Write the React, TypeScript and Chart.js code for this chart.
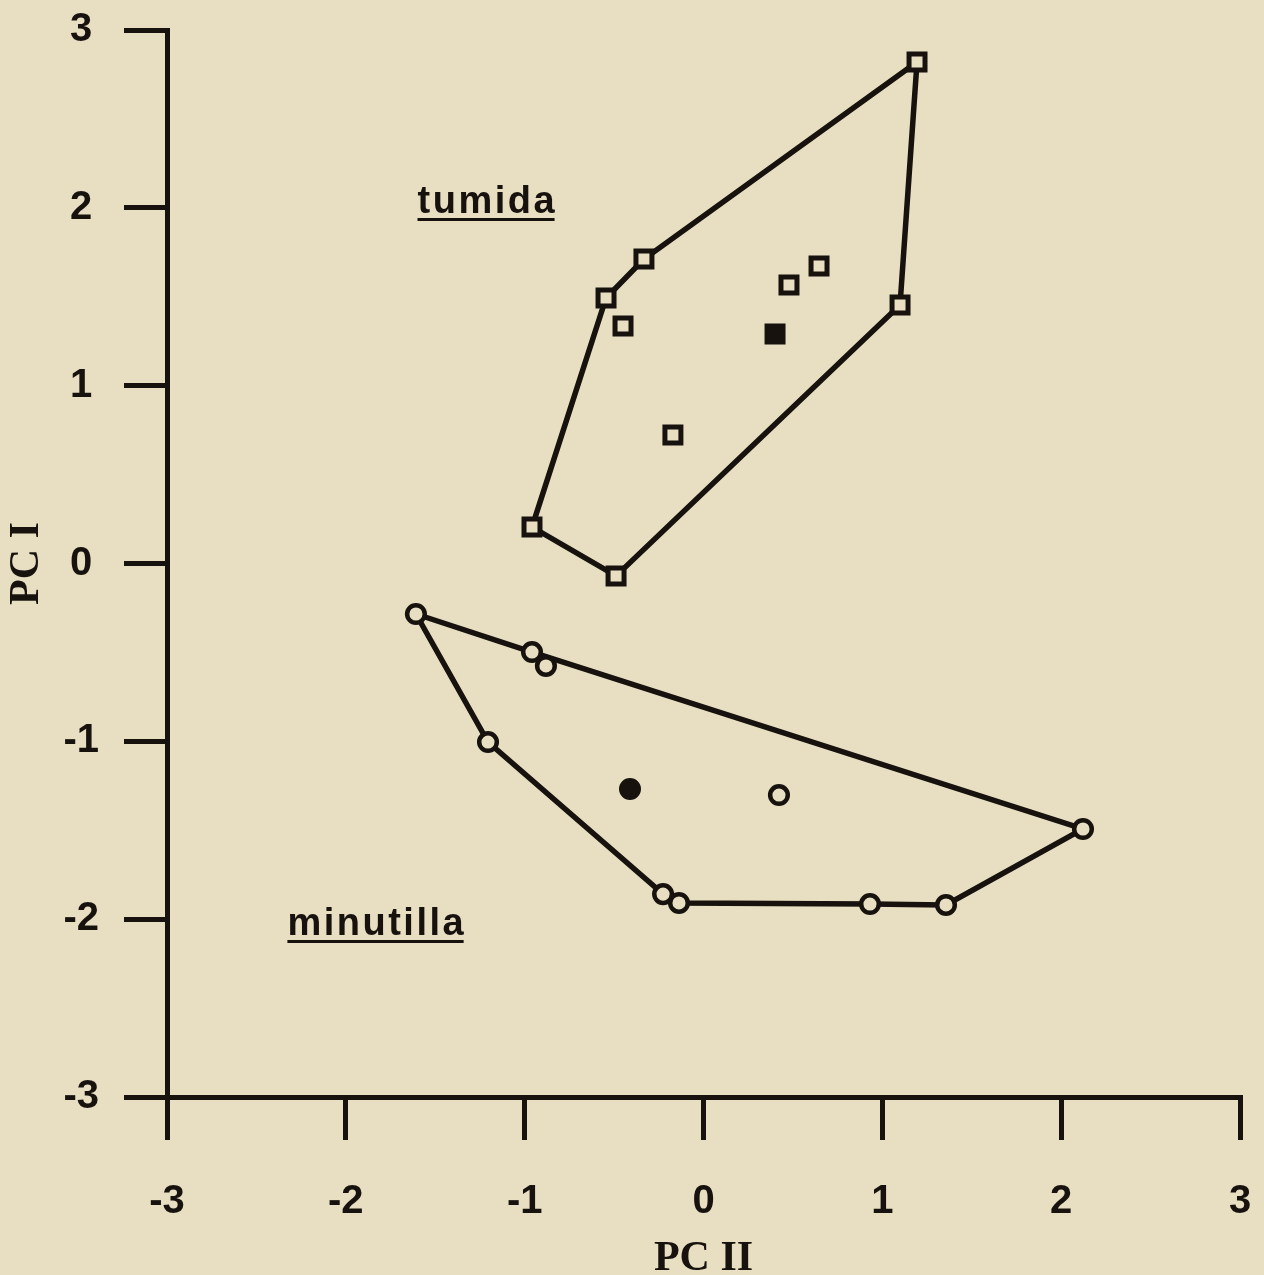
import React, { useEffect, useRef } from 'react';
import { Chart, registerables } from 'chart.js';

Chart.register(...registerables);

// ---- data (PC II on x, PC I on y) ----
const tickValues = [-3, -2, -1, 0, 1, 2, 3];

const tumidaPC2 = [1.194, 1.099, -0.489, -0.959, -0.545, -0.333, -0.450, -0.171, 0.478, 0.646];
const tumidaPC1 = [2.820, 1.454, -0.070, 0.205, 1.493, 1.712, 1.336, 0.723, 1.566, 1.673];
const tumidaHullOrder = [0, 1, 2, 3, 4, 5];
const tumidaMeanPC2 = [0.400];
const tumidaMeanPC1 = [1.291];

const minutillaPC2 = [-1.608, -0.959, -0.881, -1.205, -0.226, -0.137, 0.931, 1.356, 2.122, 0.422];
const minutillaPC1 = [-0.284, -0.498, -0.576, -1.004, -1.859, -1.909, -1.915, -1.920, -1.493, -1.302];
const minutillaHullOrder = [0, 1, 8, 7, 6, 5, 4, 3];
const minutillaMeanPC2 = [-0.411];
const minutillaMeanPC1 = [-1.268];

const groupNames = ['tumida', 'minutilla'];
const groupNamePC2 = [-1.216, -1.834];
const groupNamePC1 = [1.971, -2.089];

// ---- styles ----
const BG = '#e8dfc2';
const INK = '#17120e';

const toPoints = (xs: number[], ys: number[]) => xs.map((x, i) => ({ x, y: ys[i] }));
const hullPoints = (xs: number[], ys: number[], order: number[]) => {
  const pts = order.map((i) => ({ x: xs[i], y: ys[i] }));
  pts.push(pts[0]);
  return pts;
};

const backgroundPlugin = {
  id: 'bg',
  beforeDraw(chart: any) {
    const { ctx, width, height } = chart;
    ctx.save();
    ctx.fillStyle = BG;
    ctx.fillRect(0, 0, width, height);
    ctx.restore();
  },
};

const groupLabelPlugin = {
  id: 'groupLabels',
  afterDatasetsDraw(chart: any) {
    const { ctx } = chart;
    const xs = chart.scales.x;
    const ys = chart.scales.y;
    const spacing = 2.5;
    ctx.save();
    ctx.font = 'bold 38px "Liberation Sans", Arial, sans-serif';
    (ctx as any).letterSpacing = spacing + 'px';
    ctx.fillStyle = INK;
    ctx.textAlign = 'left';
    ctx.textBaseline = 'alphabetic';
    groupNames.forEach((name, i) => {
      const px = xs.getPixelForValue(groupNamePC2[i]);
      const py = ys.getPixelForValue(groupNamePC1[i]);
      const w = ctx.measureText(name).width - spacing;
      const x0 = px - w / 2;
      ctx.fillText(name, x0, py);
      ctx.fillRect(x0, py + 5, w, 3);
    });
    ctx.restore();
  },
};

export default function App() {
  const canvasRef = useRef<HTMLCanvasElement | null>(null);

  useEffect(() => {
    const canvas = canvasRef.current;
    if (!canvas) return;

    const tickFont = { family: '"Liberation Sans", Arial, sans-serif', weight: 'bold' as const, size: 40 };
    const titleFont = { family: '"Liberation Serif", "Times New Roman", serif', weight: 'bold' as const, size: 42, lineHeight: 1 };

    const chart = new Chart(canvas, {
      type: 'scatter',
      data: {
        datasets: [
          {
            type: 'line',
            label: 'tumida hull',
            data: hullPoints(tumidaPC2, tumidaPC1, tumidaHullOrder),
            borderColor: INK,
            borderWidth: 5.5,
            pointRadius: 0,
            fill: false,
            tension: 0,
            order: 2,
          } as any,
          {
            type: 'line',
            label: 'minutilla hull',
            data: hullPoints(minutillaPC2, minutillaPC1, minutillaHullOrder),
            borderColor: INK,
            borderWidth: 5.5,
            pointRadius: 0,
            fill: false,
            tension: 0,
            order: 2,
          } as any,
          {
            label: 'tumida',
            data: toPoints(tumidaPC2, tumidaPC1),
            pointStyle: 'rect',
            pointRadius: 11.3,
            borderWidth: 5,
            borderColor: INK,
            backgroundColor: BG,
            order: 1,
          },
          {
            label: 'tumida mean',
            data: toPoints(tumidaMeanPC2, tumidaMeanPC1),
            pointStyle: 'rect',
            pointRadius: 11.3,
            borderWidth: 5,
            borderColor: INK,
            backgroundColor: INK,
            order: 1,
          },
          {
            label: 'minutilla',
            data: toPoints(minutillaPC2, minutillaPC1),
            pointStyle: 'circle',
            pointRadius: 8.8,
            borderWidth: 4.5,
            borderColor: INK,
            backgroundColor: BG,
            order: 1,
          },
          {
            label: 'minutilla mean',
            data: toPoints(minutillaMeanPC2, minutillaMeanPC1),
            pointStyle: 'circle',
            pointRadius: 9,
            borderWidth: 4,
            borderColor: INK,
            backgroundColor: INK,
            order: 1,
          },
        ],
      },
      options: {
        animation: false,
        responsive: false,
        events: [],
        layout: { padding: { left: 0, top: 30, right: 24, bottom: 0 } },
        plugins: {
          legend: { display: false },
          tooltip: { enabled: false },
        },
        scales: {
          x: {
            type: 'linear',
            min: -3,
            max: 3,
            afterBuildTicks: (s: any) => {
              s.ticks = tickValues.map((v) => ({ value: v }));
            },
            afterFit: (s: any) => {
              s.height = 178;
              s.paddingLeft = 0;
              s.paddingRight = 0;
            },
            ticks: {
              color: INK,
              font: tickFont,
              padding: 38,
              maxRotation: 0,
              autoSkip: false,
            },
            grid: {
              display: true,
              drawOnChartArea: false,
              drawTicks: true,
              tickLength: 43,
              color: INK,
              lineWidth: 5,
            },
            border: { display: true, color: INK, width: 5 },
            title: {
              display: true,
              text: 'PC II',
              color: INK,
              font: titleFont,
              padding: { top: 0, bottom: -5 },
            },
          },
          y: {
            type: 'linear',
            min: -3,
            max: 3,
            afterBuildTicks: (s: any) => {
              s.ticks = tickValues.map((v) => ({ value: v }));
            },
            afterFit: (s: any) => {
              s.width = 167;
              s.paddingTop = 0;
              s.paddingBottom = 0;
            },
            ticks: {
              color: INK,
              font: tickFont,
              padding: 25,
              crossAlign: 'center',
              autoSkip: false,
            },
            grid: {
              display: true,
              drawOnChartArea: false,
              drawTicks: true,
              tickLength: 43,
              color: INK,
              lineWidth: 5,
            },
            border: { display: true, color: INK, width: 5 },
            title: {
              display: true,
              text: 'PC I',
              color: INK,
              font: titleFont,
              padding: { top: 6, bottom: 0 },
            },
          },
        },
      } as any,
      plugins: [backgroundPlugin, groupLabelPlugin],
    });

    return () => {
      chart.destroy();
    };
  }, []);

  return (
    <div
      style={{
        position: 'fixed',
        left: 0,
        top: 0,
        width: 1264,
        height: 1275,
        background: BG,
        overflow: 'hidden',
      }}
    >
      <canvas ref={canvasRef} width={1264} height={1275} style={{ display: 'block', width: 1264, height: 1275 }} />
    </div>
  );
}
